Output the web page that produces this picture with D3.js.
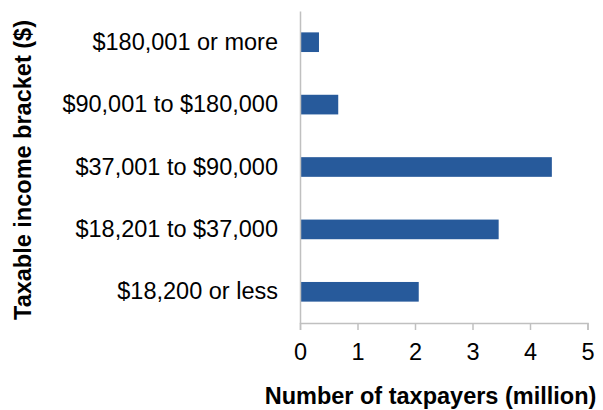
<!DOCTYPE html>
<html>
<head>
<meta charset="utf-8">
<script src="https://cdn.jsdelivr.net/npm/d3@7"></script>
<style>
	body { margin: 0; background: #fff; }
	svg text { font-family: "Liberation Sans", Arial, sans-serif; fill: #000; }
</style>
</head>
<body>
<div id="chart"></div>
<script>

// income brackets, top to bottom
var brackets = ["$180,001 or more", "$90,001 to $180,000", "$37,001 to $90,000", "$18,201 to $37,000", "$18,200 or less"];
// number of taxpayers (million)
var taxpayers = [0.33, 0.665, 4.38, 3.455, 2.065];
var xTicks = [0, 1, 2, 3, 4, 5];

var width = 603,
	height = 410,
	margin = {top: 11, right: 16, bottom: 87, left: 300},
	fontSize = 23.5;

var plotW = width - margin.left - margin.right,
	plotH = height - margin.top - margin.bottom;

var svg = d3.select("#chart").append("svg")
	.attr("width", width)
	.attr("height", height);

var g = svg.append("g")
	.attr("transform", "translate(" + margin.left + "," + margin.top + ")");

// scales
var x = d3.scaleLinear().domain([0, 5]).range([0, 287.5]);
var y = d3.scaleBand().domain(brackets).range([0, plotH])
	.paddingInner(0.685).paddingOuter(0.3425);

// bars
g.selectAll("rect.bar")
	.data(brackets)
	.enter()
	.append("rect")
	.attr("class", "bar")
	.attr("x", x(0))
	.attr("y", function(d) { return y(d); })
	.attr("width", function(d, i) { return x(taxpayers[i]) - x(0); })
	.attr("height", y.bandwidth())
	.attr("fill", "#275a9b");

// x axis
var xAxis = g.append("g")
	.attr("transform", "translate(0," + plotH + ")")
	.call(d3.axisBottom(x).tickValues(xTicks).tickFormat(d3.format("d")).tickSize(7).tickPadding(13));
xAxis.select(".domain").attr("stroke", "#c0c0c0").attr("stroke-width", 1.5);
xAxis.selectAll(".tick line").attr("stroke", "#c0c0c0").attr("stroke-width", 1.5);
xAxis.selectAll("text").attr("font-size", fontSize).attr("font-family", "Liberation Sans, Arial, sans-serif");

// y axis
var yAxis = g.append("g")
	.call(d3.axisLeft(y).tickSize(0).tickPadding(22));
yAxis.select(".domain").attr("stroke", "#c0c0c0").attr("stroke-width", 1.5);
yAxis.selectAll("text").attr("font-size", fontSize).attr("font-family", "Liberation Sans, Arial, sans-serif");

// axis titles
svg.append("text")
	.attr("text-anchor", "middle")
	.attr("font-size", fontSize)
	.attr("font-weight", "bold")
	.attr("x", 430.5)
	.attr("y", 404)
	.text("Number of taxpayers (million)");

svg.append("text")
	.attr("text-anchor", "middle")
	.attr("font-size", fontSize)
	.attr("font-weight", "bold")
	.attr("transform", "translate(31," + 170 + ")rotate(-90)")
	.text("Taxable income bracket ($)");

</script>
</body>
</html>
